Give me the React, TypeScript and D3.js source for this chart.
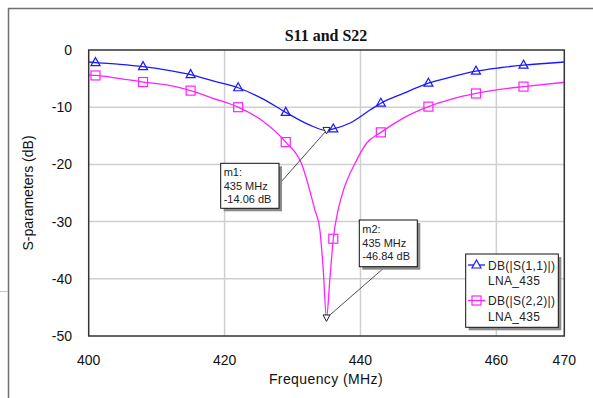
import * as d3 from "d3";

// S11 (input match)
const s11Freq = [400, 401, 404.6, 408, 411.5, 415, 418.3, 422, 425.7, 429, 432.5, 435, 436, 438.4, 441.4, 443, 446.3, 450, 453.4, 457, 460.5, 464, 470];
const s11Db = [-2.1, -2.2, -2.5, -2.9, -3.5, -4.3, -5.4, -6.6, -8.6, -10.9, -13.1, -14.06, -13.8, -12.8, -10.5, -9.3, -7.6, -5.8, -4.7, -3.7, -3.1, -2.65, -2.1];

// S22 (output match)
const s22Freq = [400, 401, 404.6, 408, 411.5, 415, 418.3, 422, 425.7, 429, 431.3, 433.3, 434, 434.5, 435, 435.5, 436, 436.7, 437.5, 439.2, 440.9, 443, 446.3, 450, 453.4, 457, 460.5, 464, 470];
const s22Db = [-4.4, -4.45, -5.0, -5.6, -6.1, -7.1, -8.45, -10.0, -12.5, -16.1, -19.8, -28, -31.2, -38, -46.84, -40, -33, -28, -24.5, -19.8, -16.3, -14.4, -11.9, -9.9, -8.6, -7.6, -6.9, -6.4, -5.65];

const markerFreqs = [401, 408, 415, 422, 429, 436, 443, 450, 457, 464];
const xTicks = [400, 420, 440, 460, 470];
const xGrid = [420, 440, 460];
const yTicks = [0, -10, -20, -30, -40, -50];

const W = 593;
const H = 398;
const left = 88.7, right = 564.3, top = 50, bottom = 336;

const BLUE = "#1a1aff";
const MAGENTA = "#ff22ff";
const SANS = "'Liberation Sans', Arial, sans-serif";
const SERIF = "'Liberation Serif', 'Times New Roman', serif";

const x = d3.scaleLinear().domain([400, 470]).range([left, right]);
const y = d3.scaleLinear().domain([-50, 0]).range([bottom, top]);

const line = d3
  .line<[number, number]>()
  .x((d) => x(d[0]))
  .y((d) => y(d[1]))
  .curve(d3.curveMonotoneX);

const zip = (f: number[], v: number[]) => f.map((fr, i) => [fr, v[i]] as [number, number]);
const s11 = zip(s11Freq, s11Db);
const s22 = zip(s22Freq, s22Db);
const at = (f: number[], v: number[], fr: number) => v[f.indexOf(fr)];

const tri = "M0,-5L4.5,3L-4.5,3Z";
const triDown = "M0,3.5L-3.5,-3L3.5,-3Z";

function Callout({ bx, by, w, h, lines }: { bx: number; by: number; w: number; h: number; lines: string[] }) {
  return (
    <g>
      <rect x={bx + 3} y={by + 3} width={w} height={h} fill="#8a8a8a" />
      <rect x={bx} y={by} width={w} height={h} fill="#fff" stroke="#111" strokeWidth={1} />
      {lines.map((t, i) => (
        <text key={i} x={bx + 3} y={by + 13 + i * 13.5} fontSize={11} fontFamily={SANS} fill="#222">
          {t}
        </text>
      ))}
    </g>
  );
}

export default function App() {
  return (
    <svg width={W} height={H} style={{ position: "absolute", left: 0, top: 0, background: "#fff" }}>
      {/* window frame */}
      <line x1={8} x2={W} y1={8.5} y2={8.5} stroke="#707070" strokeWidth={1.5} />
      <line x1={8.5} x2={8.5} y1={8} y2={H} stroke="#707070" strokeWidth={1.5} />
      <line x1={0} x2={8} y1={291.5} y2={291.5} stroke="#c4c4c4" strokeWidth={1} />

      <text x={326} y={40.5} textAnchor="middle" fontFamily={SERIF} fontWeight="bold" fontSize={16} fill="#111">
        S11 and S22
      </text>

      {/* grid */}
      {xGrid.map((t) => (
        <line key={t} x1={x(t)} x2={x(t)} y1={top} y2={bottom} stroke="#cfcfcf" strokeWidth={1.5} />
      ))}
      {yTicks.slice(1, -1).map((t) => (
        <line key={t} x1={left} x2={right} y1={y(t)} y2={y(t)} stroke="#cfcfcf" strokeWidth={1.5} />
      ))}

      {/* curves */}
      <path d={line(s11) ?? ""} fill="none" stroke={BLUE} strokeWidth={1.3} />
      <path d={line(s22) ?? ""} fill="none" stroke={MAGENTA} strokeWidth={1.3} />

      {markerFreqs.map((f) => (
        <path key={"t" + f} d={tri} transform={`translate(${x(f)},${y(at(s11Freq, s11Db, f))})`} fill="none" stroke={BLUE} strokeWidth={1.2} />
      ))}
      {markerFreqs.map((f) => (
        <rect key={"s" + f} x={x(f) - 4.5} y={y(at(s22Freq, s22Db, f)) - 4.5} width={9} height={9} fill="none" stroke={MAGENTA} strokeWidth={1.2} />
      ))}

      {/* plot border */}
      <rect x={left} y={top} width={right - left} height={bottom - top} fill="none" stroke="#333" strokeWidth={1.5} />

      {/* ticks */}
      {yTicks.map((t) => (
        <text key={t} x={72} y={y(t) + 5} textAnchor="end" fontFamily={SANS} fontSize={14} fill="#111">
          {t}
        </text>
      ))}
      {xTicks.map((t) => (
        <text key={t} x={x(t)} y={364.5} textAnchor="middle" fontFamily={SANS} fontSize={14} fill="#111">
          {t}
        </text>
      ))}

      <text x={326} y={384} textAnchor="middle" fontFamily={SANS} fontSize={14} letterSpacing={0.4} fill="#111">
        Frequency (MHz)
      </text>
      <text transform="translate(33,193) rotate(-90)" textAnchor="middle" fontFamily={SANS} fontSize={14} fill="#111">
        S-parameters (dB)
      </text>

      {/* markers m1, m2 */}
      <line x1={281} y1={182} x2={x(435)} y2={y(-14.06)} stroke="#222" strokeWidth={0.8} />
      <path d={triDown} transform={`translate(${x(435)},${y(-14.06)})`} fill="#fff" stroke="#222" strokeWidth={1} />
      <Callout bx={220.7} by={163.3} w={58.3} h={45} lines={["m1:", "435 MHz", "-14.06 dB"]} />

      <line x1={385} y1={267} x2={x(435)} y2={y(-46.84)} stroke="#222" strokeWidth={0.8} />
      <path d={triDown} transform={`translate(${x(435)},${y(-46.84)})`} fill="#fff" stroke="#222" strokeWidth={1} />
      <Callout bx={359.3} by={220} w={58} h={46.7} lines={["m2:", "435 MHz", "-46.84 dB"]} />

      {/* legend */}
      <g>
        <rect x={468.7} y={257} width={92.6} height={73.3} fill="#8a8a8a" />
        <rect x={465.7} y={254} width={92.6} height={73.3} fill="#fff" stroke="#111" strokeWidth={1} />
        <line x1={468} x2={485} y1={265} y2={265} stroke={BLUE} strokeWidth={1.3} />
        <path d={tri} transform="translate(476.5,265)" fill="#fff" stroke={BLUE} strokeWidth={1.2} />
        <text x={488} y={269.5} fontFamily={SANS} fontSize={12} letterSpacing={0.3} fill="#222">DB(|S(1,1)|)</text>
        <text x={488} y={285} fontFamily={SANS} fontSize={12} letterSpacing={0.3} fill="#222">LNA_435</text>
        <line x1={468} x2={485} y1={300.5} y2={300.5} stroke={MAGENTA} strokeWidth={1.3} />
        <rect x={472} y={296} width={9} height={9} fill="none" stroke={MAGENTA} strokeWidth={1.2} />
        <text x={488} y={305} fontFamily={SANS} fontSize={12} letterSpacing={0.3} fill="#222">DB(|S(2,2)|)</text>
        <text x={488} y={320.5} fontFamily={SANS} fontSize={12} letterSpacing={0.3} fill="#222">LNA_435</text>
      </g>
    </svg>
  );
}
